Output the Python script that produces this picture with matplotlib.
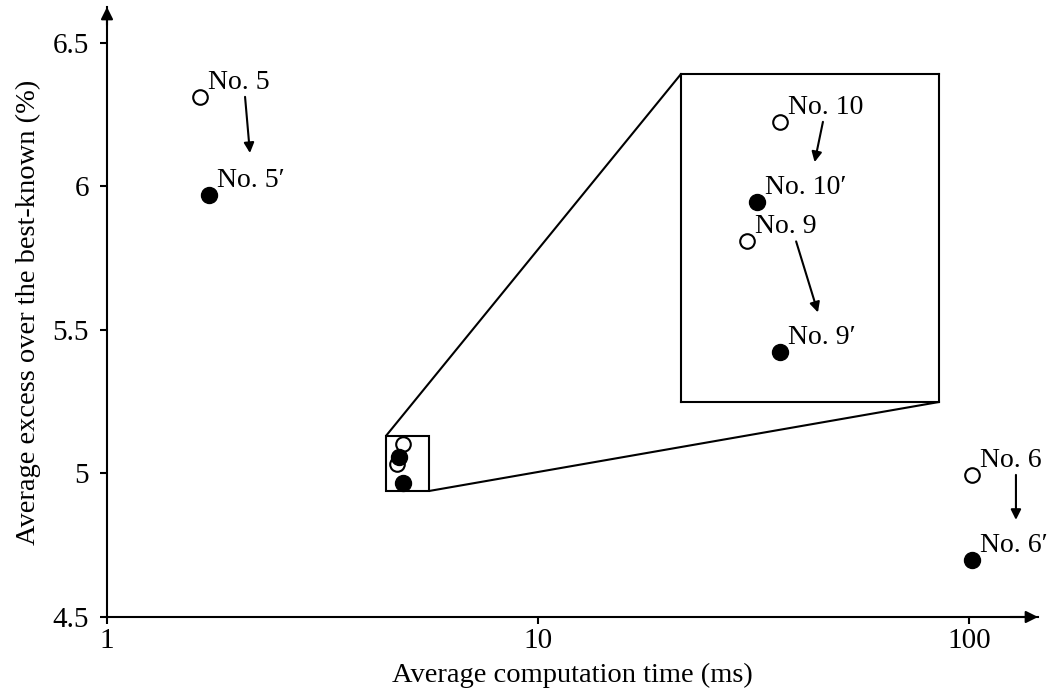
import matplotlib
matplotlib.use("Agg")
import matplotlib.pyplot as plt
from matplotlib.transforms import offset_copy
from mpl_toolkits.axes_grid1.inset_locator import mark_inset

plt.rcParams['font.family'] = ['Liberation Serif', 'DejaVu Serif']
plt.rcParams['font.size'] = 20

# average computation time (ms) and excess over best-known (%)
labels_open = ["No. 5", "No. 6", "No. 9", "No. 10"]
time_open = [1.644, 101.6, 4.71, 4.85]
excess_open = [6.312, 4.995, 5.033, 5.103]

labels_filled = ["No. 5\u2032", "No. 6\u2032", "No. 9\u2032", "No. 10\u2032"]
time_filled = [1.724, 101.6, 4.85, 4.75]
excess_filled = [5.970, 4.699, 4.968, 5.056]

yticks = [4.5, 5, 5.5, 6, 6.5]
xticks = [1, 10, 100]

fig = plt.figure(figsize=(10.57, 7), dpi=100)
ax = fig.add_axes([107 / 1057, 83 / 700, 931 / 1057, 610 / 700])
ax.set_xscale('log')
ax.set_xlim(1, 144.6)
ax.set_ylim(4.5, 6.625)
for s in ['top', 'right']:
    ax.spines[s].set_visible(False)
for s in ['left', 'bottom']:
    ax.spines[s].set_linewidth(1.5)
ax.set_xticks(xticks)
ax.set_xticklabels([str(t) for t in xticks])
ax.xaxis.set_minor_locator(matplotlib.ticker.NullLocator())
ax.set_yticks(yticks)
ax.set_yticklabels(['4.5', '5', '5.5', '6', '6.5'])
ax.tick_params(direction='out', length=5, width=1.5, labelsize=21)
ax.tick_params(axis='y', pad=8)
ax.tick_params(axis='x', pad=3)

# axis arrows
ax.annotate('', xy=(1.0, 0), xytext=(0.97, 0), xycoords='axes fraction',
            arrowprops=dict(arrowstyle='-|>', color='k', lw=1.5, mutation_scale=18,
                            shrinkA=0, shrinkB=0))
ax.annotate('', xy=(0, 1.0), xytext=(0, 0.97), xycoords='axes fraction',
            arrowprops=dict(arrowstyle='-|>', color='k', lw=1.5, mutation_scale=18,
                            shrinkA=0, shrinkB=0))

ax.set_xlabel('Average computation time (ms)', fontsize=20.5, labelpad=6)
ax.set_ylabel('Average excess over the best-known (%)', fontsize=20.5, labelpad=8)

msize = 10.5


def draw_points(a, idx):
    for i in idx:
        a.plot(time_open[i], excess_open[i], 'o', mfc='white', mec='k', mew=1.5,
               ms=msize, zorder=3, clip_on=False)
        a.plot(time_filled[i], excess_filled[i], 'o', mfc='k', mec='k',
               ms=msize + 1, zorder=3, clip_on=False)


def label_points(a, idx):
    for i in idx:
        a.annotate(labels_open[i], (time_open[i], excess_open[i]),
                   xytext=(8, 8), textcoords='offset pixels', fontsize=20,
                   va='baseline', ha='left')
        a.annotate(labels_filled[i], (time_filled[i], excess_filled[i]),
                   xytext=(8, 8), textcoords='offset pixels', fontsize=20,
                   va='baseline', ha='left')


def change_arrow(a, i, start_off, end_off):
    t0 = offset_copy(a.transData, fig=fig, x=start_off[0], y=start_off[1], units='dots')
    t1 = offset_copy(a.transData, fig=fig, x=end_off[0], y=end_off[1], units='dots')
    a.annotate('', xy=(time_filled[i], excess_filled[i]), xycoords=t1,
               xytext=(time_open[i], excess_open[i]), textcoords=t0,
               arrowprops=dict(arrowstyle='-|>', color='k', lw=1.5,
                               mutation_scale=15, shrinkA=0, shrinkB=0))


draw_points(ax, [0, 1, 2, 3])
label_points(ax, [0, 1])
change_arrow(ax, 0, (45, 0), (41, 42))
change_arrow(ax, 1, (44, 0), (44, 40))

# zoomed inset
axins = fig.add_axes([681 / 1057, (700 - 402) / 700, 258 / 1057, 328 / 700])
axins.set_xscale('log')
axins.set_xlim(4.44, 5.59)
axins.set_ylim(4.939, 5.131)
axins.set_xticks([])
axins.set_yticks([])
axins.xaxis.set_minor_locator(matplotlib.ticker.NullLocator())
for s in axins.spines.values():
    s.set_linewidth(1.5)
draw_points(axins, [2, 3])
label_points(axins, [2, 3])
change_arrow(axins, 3, (43, 0), (58, 40))
change_arrow(axins, 2, (49, 0), (38, 40))

mark_inset(ax, axins, loc1=2, loc2=4, fc='none', ec='k', lw=1.5)

fig.savefig('out.png', dpi=100)
